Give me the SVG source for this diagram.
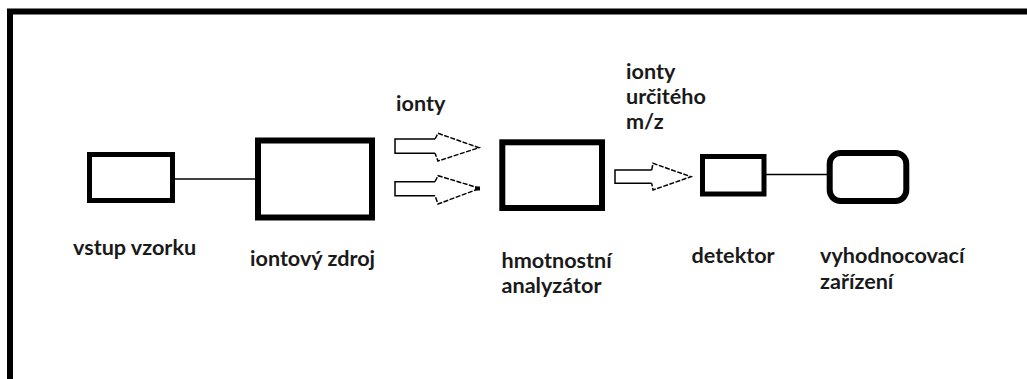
<svg xmlns="http://www.w3.org/2000/svg" width="1027" height="379" viewBox="0 0 1027 379">
<style>
.box{fill:#fff;stroke:#000}
.lbl{font-family:"Lato","Open Sans",sans-serif;font-weight:bold;font-size:21.6px;fill:#1a1a1a}
.conn{stroke:#000;stroke-width:1.5;fill:none}
.shaft{fill:#fff;stroke:#000;stroke-width:1.5}
.head{fill:none;stroke:#000;stroke-width:1.5;stroke-dasharray:5 1.5}
</style>
<rect x="0" y="0" width="1027" height="379" fill="#fff"/>
<path d="M10,379 V11.5 H1027" fill="none" stroke="#000" stroke-width="6"/>
<g id="connectors">
<line class="conn" x1="175" y1="179" x2="255" y2="179"/>
<line class="conn" x1="766" y1="174.5" x2="827" y2="174.5"/>
<g id="arrow1">
<path class="shaft" d="M435,139 H395 V153.3 H435"/>
<path class="head" d="M435,139 L438,133.3 L479,147.7 L438,161 L435,153.3"/>
</g>
<g id="arrow2">
<path class="shaft" d="M435,181.7 H395 V195.7 H435"/>
<path class="head" d="M435,181.7 L438,175.7 L480,188.3 L438,204 L435,195.7"/>
<rect x="475" y="186.5" width="5" height="4" fill="#000"/>
</g>
<g id="arrow3">
<path class="shaft" d="M651.7,170 H615 V183.3 H651.7"/>
<path class="head" d="M651.7,170 L653,163.3 L691,176.7 L653,190 L651.7,183.3"/>
</g>
</g>
<g id="vstup">
<rect class="box" x="89.5" y="154.5" width="83" height="46" stroke-width="5"/>
<text class="lbl" x="73" y="255">vstup vzorku</text>
</g>
<g id="zdroj">
<rect class="box" x="258" y="140.5" width="114" height="77" stroke-width="6"/>
<text class="lbl" x="250" y="266">iontový zdroj</text>
</g>
<g id="ionty-label">
<text class="lbl" x="396" y="111">ionty</text>
</g>
<g id="analyzator">
<rect class="box" x="502.3" y="142.3" width="99.7" height="65.7" stroke-width="6"/>
<text class="lbl" x="501.5" y="268">hmotnostní</text>
<text class="lbl" x="501.5" y="293">analyzátor</text>
</g>
<g id="ionty-mz-label">
<text class="lbl" x="626" y="78.5">ionty</text>
<text class="lbl" x="626" y="103.5">určitého</text>
<text class="lbl" x="626" y="128.5">m/z</text>
</g>
<g id="detektor">
<rect class="box" x="702.5" y="156.5" width="61.5" height="37.5" stroke-width="5"/>
<text class="lbl" x="691.5" y="263">detektor</text>
</g>
<g id="vyhodnoceni">
<rect class="box" x="829.7" y="153" width="76.6" height="48" rx="11" ry="11" stroke-width="6"/>
<text class="lbl" x="820" y="263">vyhodnocovací</text>
<text class="lbl" x="820" y="289">zařízení</text>
</g>
</svg>
